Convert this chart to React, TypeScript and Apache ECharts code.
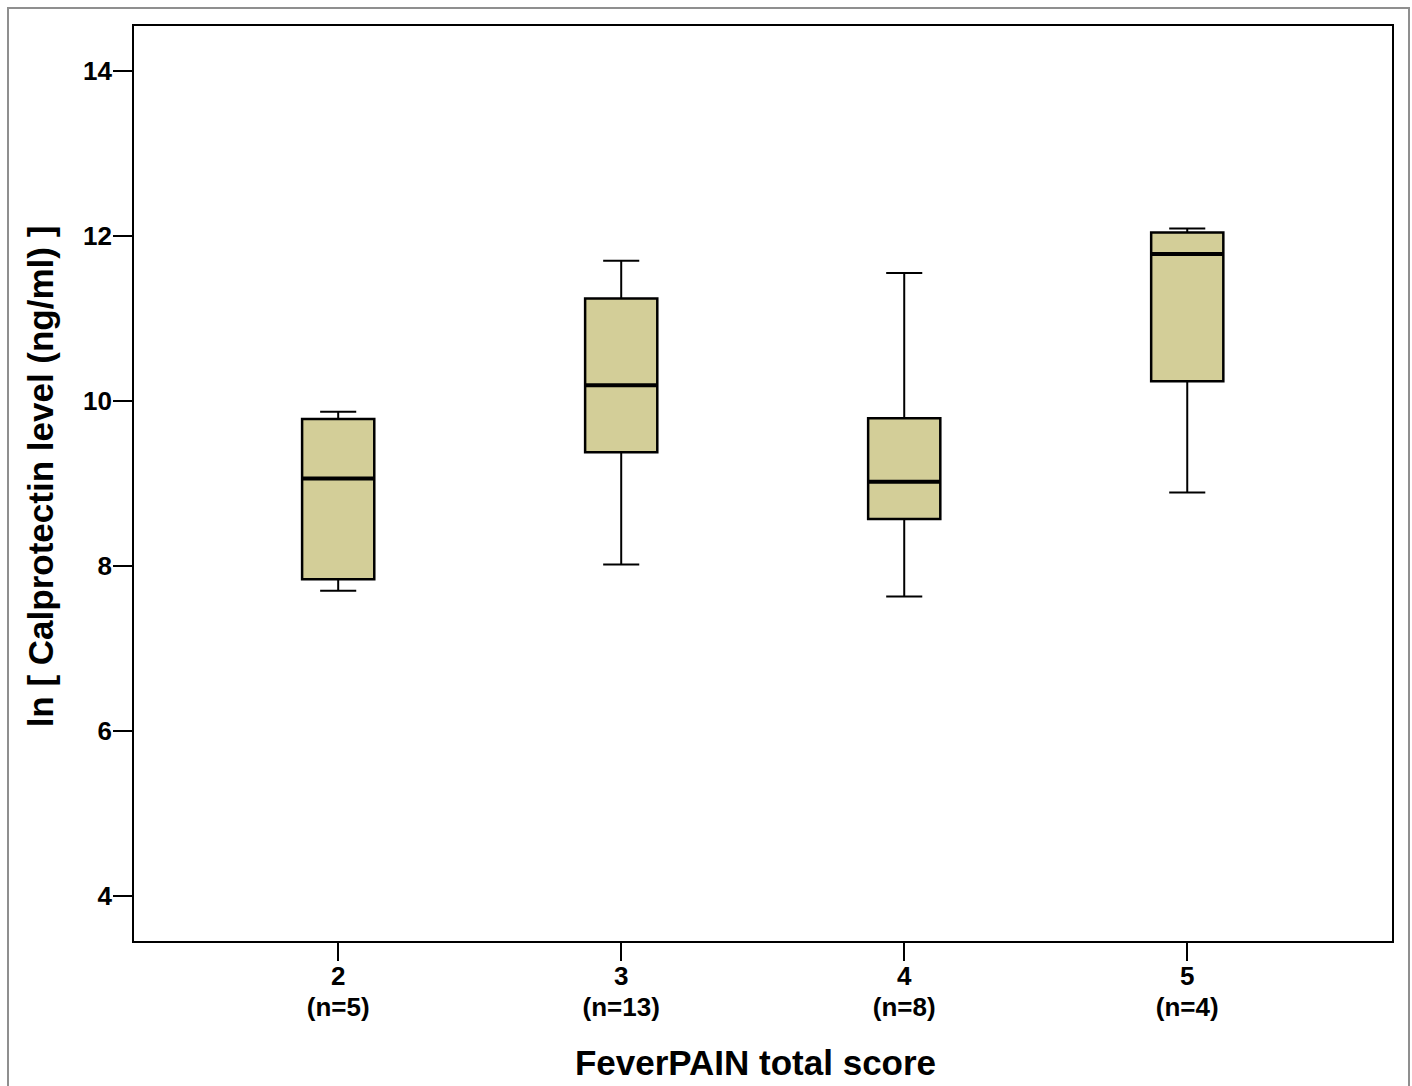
import React, { useEffect, useRef } from "react";
import * as echarts from "echarts";

const categories = [2, 3, 4, 5];
const sampleSizes = ["n=5", "n=13", "n=8", "n=4"];
const whiskerLow = [7.7, 8.02, 7.63, 8.89];
const q1 = [7.84, 9.38, 8.57, 10.24];
const median = [9.06, 10.19, 9.02, 11.78];
const q3 = [9.78, 11.24, 9.79, 12.04];
const whiskerHigh = [9.87, 11.7, 11.55, 12.09];
const yTicks = [4, 6, 8, 10, 12, 14];

const FONT = "'Liberation Sans', Arial, Helvetica, sans-serif";

export default function App() {
  const ref = useRef<HTMLDivElement>(null);

  useEffect(() => {
    if (!ref.current) return;
    const chart = echarts.init(ref.current, undefined, { renderer: "svg" });
    const data = categories.map((c, i) => [
      c,
      whiskerLow[i],
      q1[i],
      median[i],
      q3[i],
      whiskerHigh[i],
    ]);

    chart.setOption({
      animation: false,
      backgroundColor: "#ffffff",
      textStyle: { fontFamily: FONT },
      graphic: [
        {
          type: "rect",
          z: -10,
          shape: { x: 8, y: 8, width: 1401, height: 1100 },
          style: { fill: "none", stroke: "#8f8f8f", lineWidth: 2 },
          silent: true,
        },
      ],
      grid: {
        left: 133,
        right: 19,
        top: 25,
        bottom: 144,
        show: true,
        borderColor: "#000",
        borderWidth: 2,
        backgroundColor: "transparent",
      },
      xAxis: {
        type: "value",
        min: 1.275,
        max: 5.727,
        name: "FeverPAIN total score",
        nameLocation: "middle",
        nameGap: 103,
        nameTextStyle: {
          fontFamily: FONT,
          fontWeight: "bold",
          fontSize: 35,
          color: "#000",
          padding: [0, 15, 0, 0],
        },
        splitLine: { show: false },
        axisLine: { show: true, lineStyle: { color: "#000", width: 2 } },
        axisTick: {
          show: true,
          length: 19,
          customValues: categories,
          lineStyle: { color: "#000", width: 2 },
        },
        axisLabel: {
          customValues: categories,
          margin: 18,
          fontFamily: FONT,
          fontWeight: "bold",
          fontSize: 26,
          lineHeight: 31,
          color: "#000",
          formatter: (v: number) => {
            const i = categories.indexOf(Math.round(v));
            return i >= 0 ? `${categories[i]}\n(${sampleSizes[i]})` : "";
          },
        },
      },
      yAxis: {
        type: "value",
        min: 3.445,
        max: 14.555,
        name: "ln [ Calprotectin level (ng/ml) ]",
        nameLocation: "middle",
        nameGap: 75,
        nameTextStyle: {
          fontFamily: FONT,
          fontWeight: "bold",
          fontSize: 35,
          color: "#000",
          padding: [0, 0, 0, 14],
        },
        splitLine: { show: false },
        axisLine: { show: true, lineStyle: { color: "#000", width: 2 } },
        axisTick: {
          show: true,
          length: 20,
          customValues: yTicks,
          lineStyle: { color: "#000", width: 2 },
        },
        axisLabel: {
          customValues: yTicks,
          margin: 21,
          fontFamily: FONT,
          fontWeight: "bold",
          fontSize: 26,
          color: "#000",
        },
      },
      series: [
        {
          type: "custom",
          data,
          renderItem: (params: any, api: any) => {
            const x = api.value(0);
            const lo = api.coord([x, api.value(1)]);
            const b1 = api.coord([x, api.value(2)]);
            const md = api.coord([x, api.value(3)]);
            const b3 = api.coord([x, api.value(4)]);
            const hi = api.coord([x, api.value(5)]);
            const cx = lo[0];
            const boxW = api.size([0.255, 0])[0];
            const capW = boxW / 2;
            const stroke = { stroke: "#000", lineWidth: 2 };
            return {
              type: "group",
              children: [
                {
                  type: "line",
                  shape: { x1: cx, y1: hi[1], x2: cx, y2: b3[1] },
                  style: stroke,
                },
                {
                  type: "line",
                  shape: { x1: cx, y1: b1[1], x2: cx, y2: lo[1] },
                  style: stroke,
                },
                {
                  type: "line",
                  shape: { x1: cx - capW / 2, y1: hi[1], x2: cx + capW / 2, y2: hi[1] },
                  style: stroke,
                },
                {
                  type: "line",
                  shape: { x1: cx - capW / 2, y1: lo[1], x2: cx + capW / 2, y2: lo[1] },
                  style: stroke,
                },
                {
                  type: "rect",
                  shape: { x: cx - boxW / 2, y: b3[1], width: boxW, height: b1[1] - b3[1] },
                  style: { fill: "#D3CE98", stroke: "#000", lineWidth: 2.5 },
                },
                {
                  type: "line",
                  shape: { x1: cx - boxW / 2, y1: md[1], x2: cx + boxW / 2, y2: md[1] },
                  style: { stroke: "#000", lineWidth: 4 },
                },
              ],
            };
          },
        },
      ],
    });

    return () => chart.dispose();
  }, []);

  return (
    <div
      ref={ref}
      style={{ position: "absolute", left: 0, top: 0, width: 1412, height: 1086 }}
    />
  );
}
